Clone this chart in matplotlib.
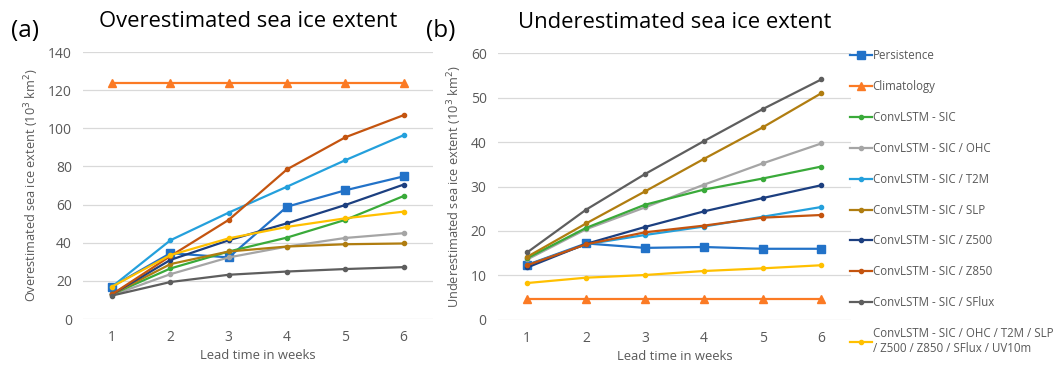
import matplotlib
matplotlib.use("Agg")
import matplotlib.pyplot as plt

plt.rcParams["font.family"] = ["Open Sans", "DejaVu Sans"]

weeks = [1, 2, 3, 4, 5, 6]
labels = ["Persistence", "Climatology", "ConvLSTM - SIC", "ConvLSTM - SIC / OHC",
          "ConvLSTM - SIC / T2M", "ConvLSTM - SIC / SLP", "ConvLSTM - SIC / Z500",
          "ConvLSTM - SIC / Z850", "ConvLSTM - SIC / SFlux",
          "ConvLSTM - SIC / OHC / T2M / SLP\n/ Z500 / Z850 / SFlux / UV10m"]

# overestimated sea ice extent (10^3 km^2)
over_persist = [17.0, 34.5, 32.3, 58.9, 67.5, 74.8]
over_clim = [124, 124, 124, 124, 124, 124]
over_sic = [13.0, 26.5, 35.4, 42.7, 52.0, 64.5]
over_ohc = [12.5, 23.5, 32.3, 38.0, 42.5, 45.0]
over_t2m = [17.0, 41.3, 55.8, 69.4, 83.3, 96.4]
over_slp = [13.0, 28.8, 35.4, 38.0, 39.2, 39.6]
over_z500 = [13.0, 31.0, 41.3, 50.2, 59.8, 70.5]
over_z850 = [13.0, 33.0, 52.0, 78.5, 95.3, 106.9]
over_sflux = [12.3, 19.4, 23.2, 24.9, 26.2, 27.2]
over_all = [17.0, 33.5, 42.3, 48.3, 52.8, 56.3]

# underestimated sea ice extent (10^3 km^2)
under_persist = [12.4, 17.2, 16.2, 16.4, 16.0, 16.0]
under_clim = [4.8, 4.8, 4.8, 4.8, 4.8, 4.8]
under_sic = [13.9, 20.7, 25.9, 29.3, 31.8, 34.5]
under_ohc = [13.6, 20.4, 25.3, 30.4, 35.2, 39.7]
under_t2m = [12.3, 17.0, 19.1, 21.0, 23.2, 25.4]
under_slp = [14.2, 21.7, 28.9, 36.2, 43.3, 51.0]
under_z500 = [11.8, 17.1, 20.9, 24.4, 27.4, 30.3]
under_z850 = [12.3, 17.0, 19.7, 21.2, 23.0, 23.6]
under_sflux = [15.2, 24.8, 32.8, 40.2, 47.4, 54.1]
under_all = [8.3, 9.5, 10.1, 11.0, 11.6, 12.3]

over = [over_persist, over_clim, over_sic, over_ohc, over_t2m, over_slp,
        over_z500, over_z850, over_sflux, over_all]
under = [under_persist, under_clim, under_sic, under_ohc, under_t2m, under_slp,
         under_z500, under_z850, under_sflux, under_all]

colors = ["#2272c8", "#fb7a24", "#3aaa3a", "#a5a5a5", "#24a0dc", "#b07d10",
          "#1c3f80", "#c4540f", "#5e5e5e", "#ffc000"]
markers = ["s", "^", "o", "o", "o", "o", "o", "o", "o", "o"]
msizes = [6, 6, 3, 3, 3, 3, 3, 3, 3, 3]
zorders = [3, 3, 4, 3, 4, 4, 4, 4, 4, 5]

GRAY = "#595959"
fig = plt.figure(figsize=(10.57, 3.69), dpi=100)
ax_a = fig.add_axes([0.0785, 0.1355, 0.331, 0.7235])
ax_b = fig.add_axes([0.471, 0.133, 0.334, 0.723])


def draw(ax, series, ymax, step, ylabel, title, title_x, tag, tagx):
    handles = []
    for s, c, m, ms, z in zip(series, colors, markers, msizes, zorders):
        h, = ax.plot(weeks, s, color=c, lw=1.6, marker=m, ms=ms, zorder=z)
        handles.append(h)
    ax.set_xlim(0.5, 6.5)
    ax.set_ylim(0, ymax)
    ax.set_yticks(range(0, ymax + 1, step))
    ax.set_xticks(weeks)
    ax.grid(axis="y", color="#d9d9d9", lw=0.9)
    ax.set_axisbelow(True)
    for sp in ax.spines.values():
        sp.set_visible(False)
    ax.tick_params(length=0, colors=GRAY, labelsize=10, pad=8)
    ax.set_xlabel("Lead time in weeks", color=GRAY, fontsize=9.4, labelpad=3)
    ax.set_ylabel(ylabel, color=GRAY, fontsize=9.2, labelpad=5)
    ax.set_title(title, fontsize=15.8, pad=18, x=title_x)
    fig.text(tagx, 0.915, tag, fontsize=17.5, va="center")
    return handles


draw(ax_a, over, 140, 20, "Overestimated sea ice extent (10$^3$ km$^2$)",
     "Overestimated sea ice extent", 0.471, "(a)", 0.010)
handles = draw(ax_b, under, 60, 10, "Underestimated sea ice extent (10$^3$ km$^2$)",
               "Underestimated sea ice extent", 0.5, "(b)", 0.403)

fig.legend(handles, labels, loc="upper left", bbox_to_anchor=(0.8, 0.879),
           frameon=False, fontsize=8.3, labelcolor=GRAY, handlelength=1.85,
           handletextpad=0.1, labelspacing=1.55, borderaxespad=0)

fig.savefig("out.png", dpi=100, facecolor="w")
